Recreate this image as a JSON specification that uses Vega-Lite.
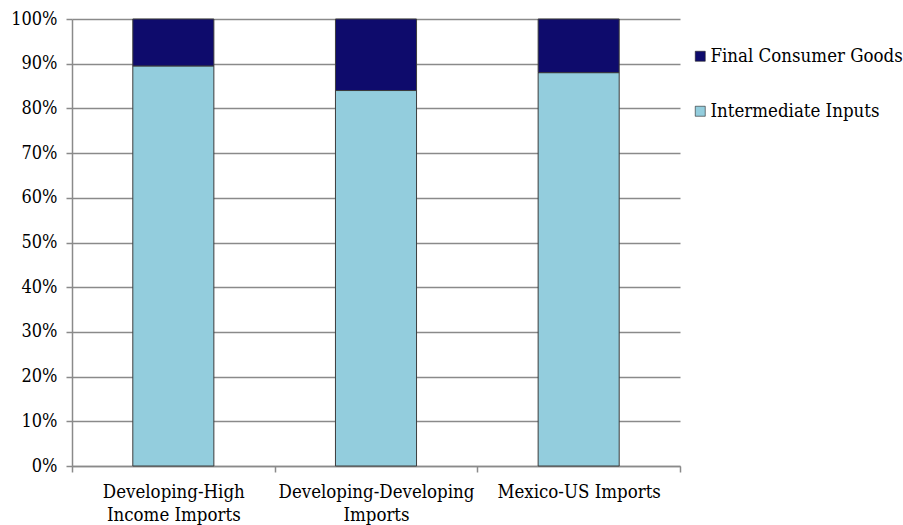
{
  "$schema": "https://vega.github.io/schema/vega-lite/v6.json",
  "autosize": "none",
  "width": 608,
  "height": 447,
  "padding": {"left": 72, "top": 19, "right": 223, "bottom": 59},
  "background": "white",
  "data": {
    "values": [
      {"trade": "Developing-High Income Imports", "component": "Intermediate Inputs", "share": 0.895},
      {"trade": "Developing-High Income Imports", "component": "Final Consumer Goods", "share": 0.105},
      {"trade": "Developing-Developing Imports", "component": "Intermediate Inputs", "share": 0.84},
      {"trade": "Developing-Developing Imports", "component": "Final Consumer Goods", "share": 0.16},
      {"trade": "Mexico-US Imports", "component": "Intermediate Inputs", "share": 0.88},
      {"trade": "Mexico-US Imports", "component": "Final Consumer Goods", "share": 0.12}
    ]
  },
  "mark": {"type": "bar", "width": {"band": 0.4}, "stroke": "#3c3c3c", "strokeWidth": 1},
  "encoding": {
    "x": {
      "field": "trade",
      "type": "nominal",
      "sort": null,
      "scale": {"paddingInner": 0, "paddingOuter": 0},
      "axis": {
        "title": null,
        "labelAngle": 0,
        "tickBand": "extent",
        "grid": false,
        "labelPadding": 10,
        "labelLineHeight": 23,
        "labelLimit": 0,
        "labelFontSize": 18.5,
        "labelExpr": "datum.label == 'Developing-High Income Imports' ? ['Developing-High', 'Income Imports'] : datum.label == 'Developing-Developing Imports' ? ['Developing-Developing', 'Imports'] : datum.label"
      }
    },
    "y": {
      "field": "share",
      "type": "quantitative",
      "stack": "zero",
      "scale": {"domain": [0, 1]},
      "axis": {
        "title": null,
        "values": [0, 0.1, 0.2, 0.3, 0.4, 0.5, 0.6, 0.7, 0.8, 0.9, 1],
        "format": ".0%",
        "grid": true,
        "labelPadding": 9,
        "labelFontSize": 18
      }
    },
    "color": {
      "field": "component",
      "type": "nominal",
      "scale": {
        "domain": ["Final Consumer Goods", "Intermediate Inputs"],
        "range": ["#0e0b6c", "#93cddd"]
      },
      "legend": {
        "title": null,
        "orient": "none",
        "legendX": 619,
        "legendY": 28,
        "symbolType": "square",
        "symbolSize": 100,
        "symbolStrokeColor": "#222222",
        "symbolStrokeWidth": 0.6,
        "rowPadding": 36,
        "labelOffset": 1,
        "labelLimit": 0,
        "labelFont": "DejaVu Serif Condensed, DejaVu Serif",
        "labelFontSize": 18.5,
        "labelColor": "#000000"
      }
    },
    "order": {"field": "component", "sort": "descending"}
  },
  "config": {
    "view": {"stroke": null},
    "axis": {
      "labelFont": "DejaVu Serif Condensed, DejaVu Serif",
      "labelColor": "#000000",
      "domainColor": "#8a8a8a",
      "tickColor": "#8a8a8a",
      "gridColor": "#8a8a8a",
      "gridOpacity": 1,
      "domainWidth": 1.5,
      "gridWidth": 1.5,
      "tickWidth": 1.5,
      "tickSize": 6
    }
  }
}
